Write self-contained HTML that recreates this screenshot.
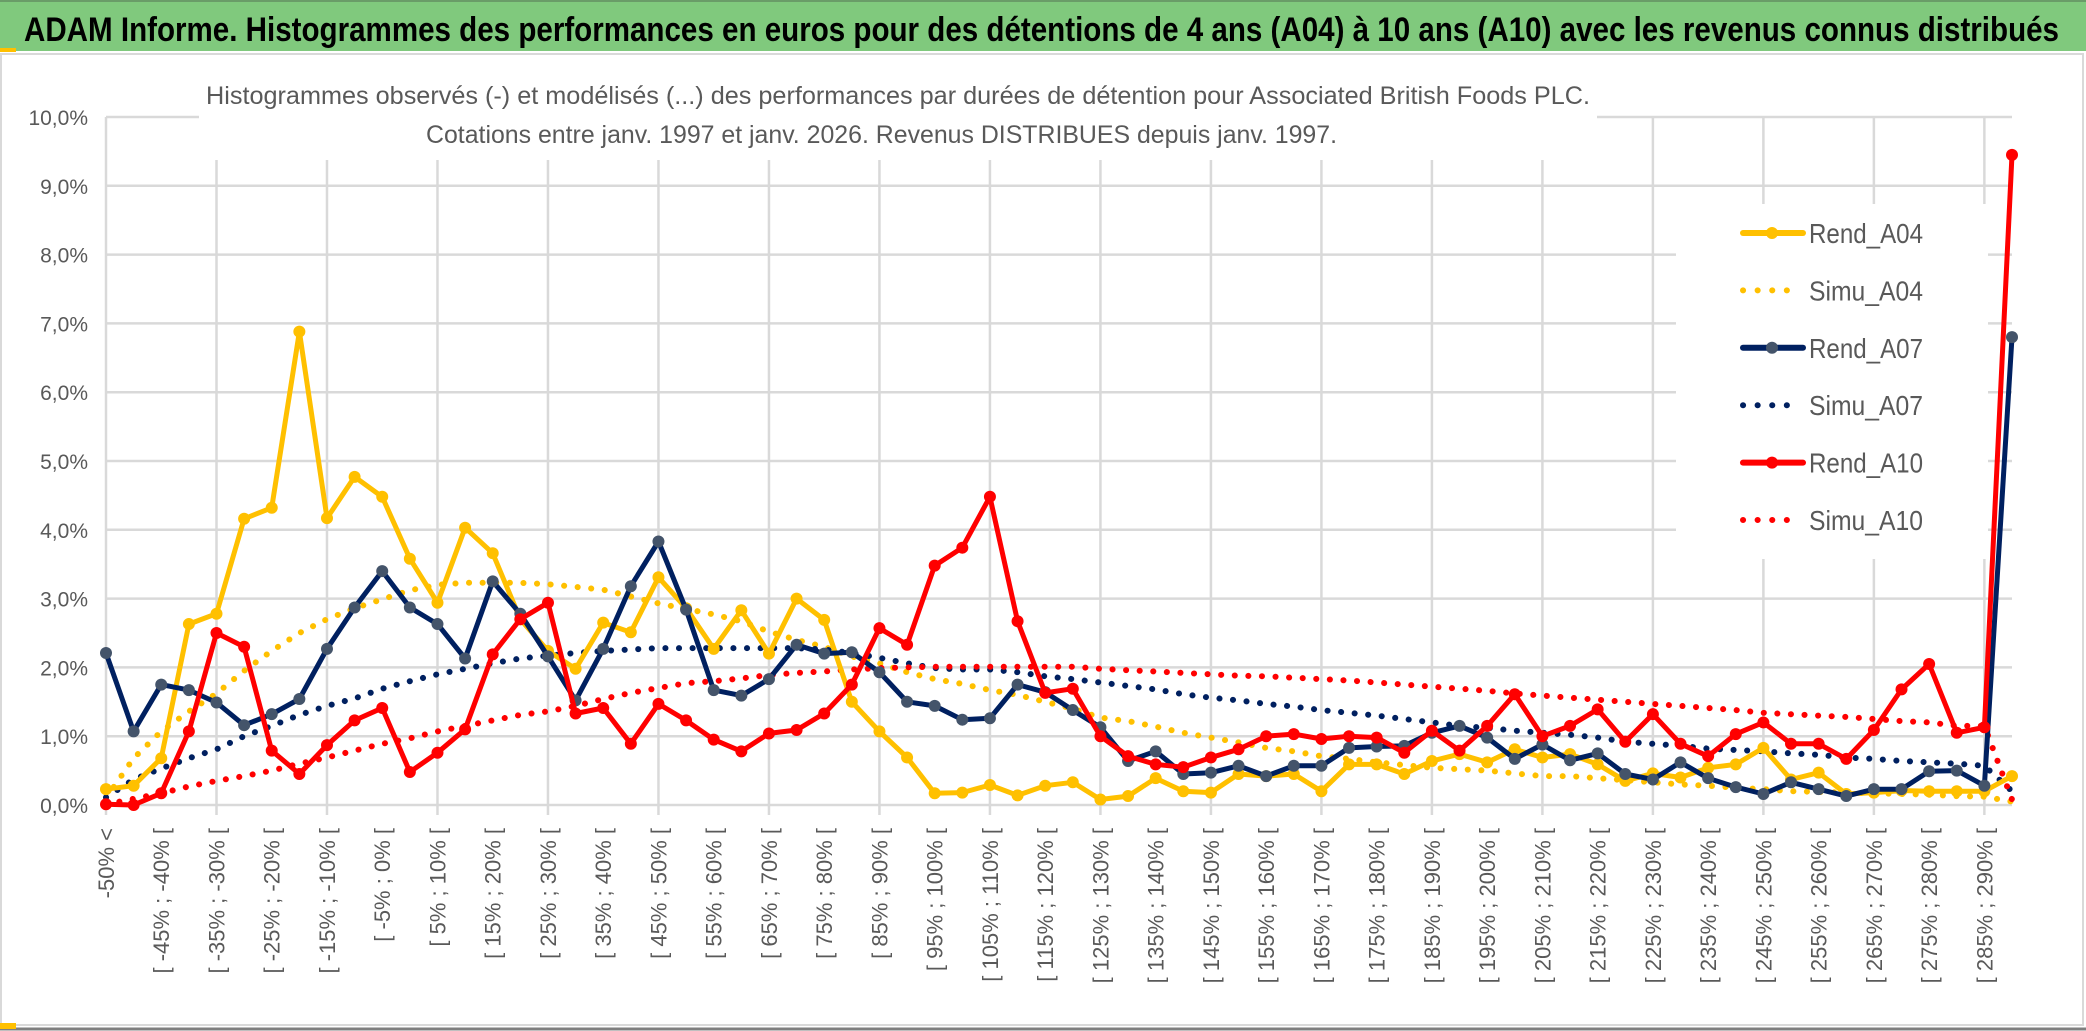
<!DOCTYPE html>
<html><head><meta charset="utf-8"><style>
html,body{margin:0;padding:0;background:#fff}
svg{display:block}
text{font-family:"Liberation Sans",sans-serif}
</style></head><body>
<svg id="chart" width="2086" height="1031" viewBox="0 0 2086 1031" xmlns="http://www.w3.org/2000/svg">
<rect x="0" y="0" width="2086" height="1031" fill="#ffffff"/>
<rect x="0" y="0" width="2086" height="51" fill="#80c97d"/>
<rect x="0" y="0" width="2086" height="2" fill="#6a9c68"/>
<rect x="0" y="48" width="16" height="4" fill="#ffc000"/>
<text x="24" y="41" font-size="34" font-weight="bold" fill="#000" textLength="2035" lengthAdjust="spacingAndGlyphs">ADAM Informe. Histogrammes des performances en euros pour des détentions de 4 ans (A04) à 10 ans (A10) avec les revenus connus distribués</text>
<rect x="1" y="54" width="2082" height="971" fill="none" stroke="#d9d9d9" stroke-width="2"/>
<line x1="0" y1="1029" x2="2086" y2="1029" stroke="#7f7f7f" stroke-width="3"/>
<rect x="0" y="1023" width="16" height="6" fill="#ffc000"/>
<g id="grid"></g>
<g id="yaxis"></g>
<g id="xaxis"></g>
<rect x="199" y="66" width="1398" height="94" fill="#fff"/>
<text x="206" y="104" font-size="25" fill="#595959" textLength="1384" lengthAdjust="spacingAndGlyphs">Histogrammes observés (-) et modélisés (...) des performances par durées de détention pour Associated British Foods PLC.</text>
<text x="426" y="143" font-size="25" fill="#595959" textLength="911" lengthAdjust="spacingAndGlyphs">Cotations entre janv. 1997 et janv. 2026. Revenus DISTRIBUES depuis janv. 1997.</text>
<rect x="1676" y="204" width="312" height="355" fill="#fff"/>
<g id="series"></g>
<g id="legend"></g>
</svg>
<script>
const yTicks = ["0,0%","1,0%","2,0%","3,0%","4,0%","5,0%","6,0%","7,0%","8,0%","9,0%","10,0%"];
const rendA04 = [0.23,0.28,0.68,2.63,2.78,4.16,4.32,6.88,4.17,4.77,4.48,3.58,2.94,4.03,3.66,2.7,2.24,1.98,2.65,2.51,3.31,2.86,2.27,2.83,2.2,3.0,2.69,1.5,1.07,0.69,0.17,0.18,0.29,0.14,0.28,0.33,0.08,0.13,0.39,0.2,0.18,0.45,0.42,0.45,0.2,0.59,0.59,0.45,0.64,0.74,0.62,0.81,0.69,0.74,0.59,0.35,0.46,0.4,0.54,0.59,0.83,0.37,0.47,0.16,0.18,0.21,0.2,0.2,0.2,0.42];
const simuA04 = [0.1,0.68,1.07,1.36,1.62,1.95,2.24,2.5,2.7,2.86,2.99,3.12,3.2,3.23,3.23,3.23,3.21,3.17,3.13,3.03,2.93,2.85,2.77,2.67,2.52,2.4,2.3,2.16,2.06,1.93,1.83,1.76,1.67,1.6,1.5,1.4,1.27,1.22,1.14,1.05,0.98,0.91,0.83,0.78,0.71,0.67,0.62,0.58,0.54,0.52,0.5,0.46,0.42,0.42,0.39,0.36,0.33,0.3,0.28,0.25,0.23,0.2,0.19,0.18,0.17,0.16,0.15,0.13,0.12,0.05];
const rendA07 = [2.21,1.07,1.75,1.67,1.49,1.16,1.32,1.54,2.27,2.87,3.4,2.87,2.63,2.13,3.25,2.78,2.16,1.52,2.27,3.18,3.83,2.84,1.67,1.59,1.83,2.33,2.2,2.22,1.93,1.5,1.44,1.24,1.26,1.75,1.64,1.38,1.13,0.64,0.78,0.45,0.47,0.57,0.42,0.57,0.57,0.83,0.85,0.86,1.05,1.15,0.98,0.67,0.88,0.65,0.75,0.45,0.37,0.62,0.39,0.26,0.16,0.33,0.23,0.13,0.23,0.23,0.49,0.5,0.28,6.8];
const simuA07 = [0.11,0.37,0.53,0.68,0.81,1.0,1.15,1.31,1.44,1.55,1.69,1.8,1.9,1.98,2.06,2.13,2.17,2.21,2.24,2.26,2.28,2.28,2.28,2.28,2.28,2.28,2.26,2.21,2.14,2.06,1.99,1.97,1.97,1.93,1.87,1.83,1.78,1.73,1.68,1.61,1.56,1.52,1.47,1.43,1.38,1.34,1.3,1.25,1.2,1.15,1.12,1.08,1.05,1.02,0.98,0.92,0.89,0.86,0.82,0.8,0.78,0.75,0.73,0.69,0.67,0.64,0.62,0.6,0.57,0.2];
const rendA10 = [0.01,0,0.17,1.07,2.5,2.3,0.79,0.45,0.87,1.23,1.41,0.48,0.76,1.1,2.19,2.7,2.94,1.33,1.41,0.89,1.47,1.23,0.95,0.78,1.04,1.09,1.33,1.75,2.57,2.33,3.48,3.74,4.48,2.67,1.63,1.69,1.0,0.71,0.59,0.55,0.69,0.81,1.0,1.03,0.96,1.0,0.98,0.76,1.08,0.79,1.15,1.61,1.0,1.15,1.39,0.92,1.32,0.89,0.71,1.03,1.2,0.89,0.89,0.67,1.09,1.68,2.05,1.05,1.13,9.45];
const simuA10 = [0.01,0.09,0.17,0.27,0.35,0.42,0.5,0.6,0.69,0.79,0.89,0.97,1.07,1.15,1.23,1.31,1.36,1.44,1.54,1.63,1.7,1.77,1.8,1.84,1.89,1.92,1.94,1.97,1.99,2.0,2.01,2.01,2.01,2.01,2.01,2.01,1.98,1.96,1.94,1.92,1.9,1.88,1.87,1.85,1.83,1.81,1.78,1.75,1.72,1.69,1.66,1.62,1.59,1.56,1.53,1.5,1.47,1.44,1.41,1.38,1.34,1.32,1.3,1.28,1.25,1.22,1.2,1.15,1.15,0.08];
const categories = ["-50% <"];
for (let k = 1; k <= 68; k++) { const lo = -50 + 5*(k-1); categories.push("[ " + lo + "% ; " + (lo+5) + "% ["); }
categories.push("> 290%");

const NS = "http://www.w3.org/2000/svg";
const X0 = 106, X1 = 2012, Y0 = 805, Y10 = 117;
const n = categories.length;
const xs = i => X0 + i * (X1 - X0) / (n - 1);
const ys = v => Y0 - v * (Y0 - Y10) / 10;
function mk(tag, attrs, parent) { const e = document.createElementNS(NS, tag); for (const k in attrs) e.setAttribute(k, attrs[k]); parent.appendChild(e); return e; }

const grid = document.getElementById('grid');
yTicks.forEach((t, i) => {
  const l = mk('line', {x1: X0, x2: X1, y1: ys(i), y2: ys(i), stroke: '#d9d9d9', 'stroke-width': 2.5}, grid);
  
  
  const tx = mk('text', {x: 88, y: ys(i) + 8, 'font-size': 21, fill: '#595959', 'text-anchor': 'end'}, document.getElementById('yaxis'));
  tx.textContent = t;
  
  
});
for (let i = 0; i < n; i += 4) {
  const l = mk('line', {x1: xs(i), x2: xs(i), y1: Y10, y2: Y0 + 10, stroke: '#d9d9d9', 'stroke-width': 2.5}, grid);
  
  
}
const xa = document.getElementById('xaxis');
for (let i = 0; i < n - 1; i += 2) {
  const x = xs(i) + 8, y = 828;
  const t = mk('text', {x: x, y: y, 'font-size': 22, fill: '#595959', 'text-anchor': 'end', transform: 'rotate(-90 ' + x + ' ' + y + ')'}, xa);
  t.textContent = categories[i];
  
  
}

const series = [
  {name: 'simu-a04', data: simuA04, color: '#ffc000', dotted: true},
  {name: 'simu-a07', data: simuA07, color: '#002060', dotted: true},
  {name: 'simu-a10', data: simuA10, color: '#ff0000', dotted: true},
  {name: 'rend-a04', data: rendA04, color: '#ffc000', marker: '#ffc000'},
  {name: 'rend-a07', data: rendA07, color: '#002060', marker: '#44546a'},
  {name: 'rend-a10', data: rendA10, color: '#ff0000', marker: '#ff0000'}
];
const sg = document.getElementById('series');
series.forEach(s => {
  const g = mk('g', {}, sg);
  
  
  const pts = s.data.map((v, i) => xs(i).toFixed(1) + ',' + ys(v).toFixed(1)).join(' ');
  const attrs = {points: pts, fill: 'none', stroke: s.color, 'stroke-width': s.dotted ? 6 : 5, 'stroke-linejoin': 'round', 'stroke-linecap': 'round'};
  if (s.dotted) attrs['stroke-dasharray'] = '0.1 13.5';
  const pl = mk('polyline', attrs, g);
  
  
  if (!s.dotted) {
    s.data.forEach((v, i) => {
      const c = mk('circle', {cx: xs(i), cy: ys(v), r: 6, fill: s.marker}, g);
      
      
    });
  }
});

const legendItems = [
  {label: 'Rend_A04', color: '#ffc000', marker: '#ffc000'},
  {label: 'Simu_A04', color: '#ffc000', dotted: true},
  {label: 'Rend_A07', color: '#002060', marker: '#44546a'},
  {label: 'Simu_A07', color: '#002060', dotted: true},
  {label: 'Rend_A10', color: '#ff0000', marker: '#ff0000'},
  {label: 'Simu_A10', color: '#ff0000', dotted: true}
];
const lg = document.getElementById('legend');
legendItems.forEach((it, k) => {
  const y = 233 + k * 57.4;
  const g = mk('g', {}, lg);
  
  
  const a = {x1: 1743, x2: 1803, y1: y, y2: y, stroke: it.color, 'stroke-width': 6, 'stroke-linecap': 'round'};
  if (it.dotted) { a['stroke-dasharray'] = '0.1 14.5'; a.x2 = 1800; }
  const ln = mk('line', a, g);
  
  
  if (!it.dotted) {
    const c = mk('circle', {cx: 1772, cy: y, r: 6, fill: it.marker}, g);
    
    
  }
  const t = mk('text', {x: 1809, y: y + 10, 'font-size': 28, fill: '#595959', textLength: 114, lengthAdjust: 'spacingAndGlyphs'}, g);
  t.textContent = it.label;
  
  
});
</script>
</body></html>
